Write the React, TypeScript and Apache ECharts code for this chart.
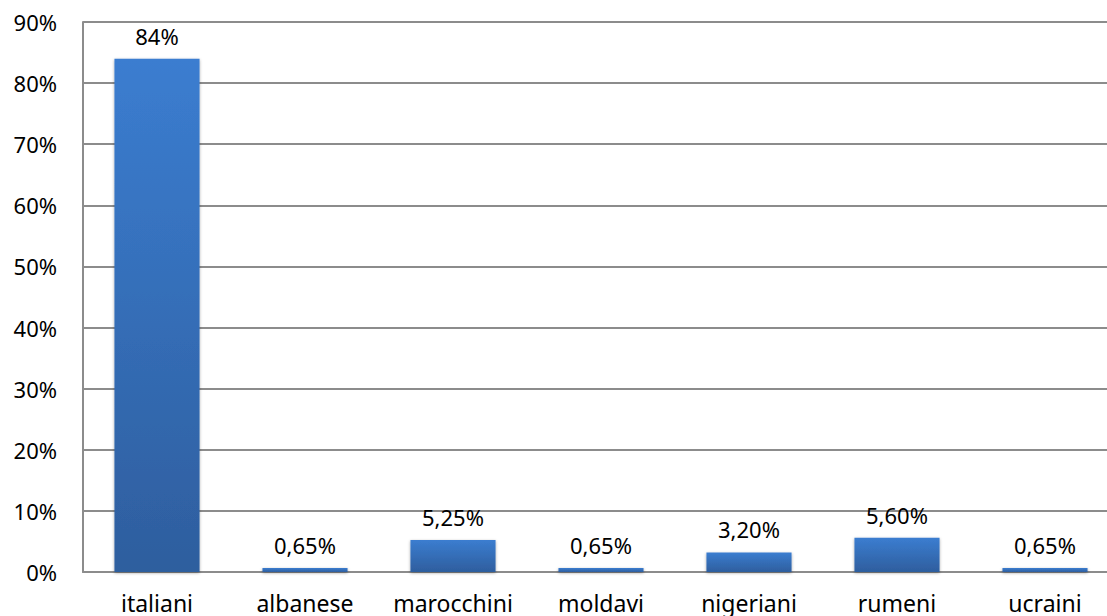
import React, { useEffect, useRef } from "react";
import * as echarts from "echarts";

// Share of people by nationality
const categories = ["italiani", "albanese", "marocchini", "moldavi", "nigeriani", "rumeni", "ucraini"];
const shares = [84, 0.65, 5.25, 0.65, 3.2, 5.6, 0.65];
const shareLabels = ["84%", "0,65%", "5,25%", "0,65%", "3,20%", "5,60%", "0,65%"];

const FONT = "'Noto Sans', 'Liberation Sans', sans-serif";

// The plot area runs a little past the right edge of the visible frame,
// so the chart canvas is wider than its clipping wrapper.
const VIEW_W = 1107;
const VIEW_H = 616;
const CANVAS_W = 1135;

export default function App() {
  const ref = useRef<HTMLDivElement>(null);

  useEffect(() => {
    if (!ref.current) return;
    const chart = echarts.init(ref.current, null, { renderer: "svg" });
    chart.setOption({
      animation: false,
      backgroundColor: "#ffffff",
      grid: { left: 83, right: CANVAS_W - 1119, top: 22, bottom: 44, containLabel: false },
      xAxis: {
        type: "category",
        data: categories,
        axisLine: { show: true, lineStyle: { color: "#8c8c8c", width: 2 } },
        axisTick: { show: false },
        axisLabel: { color: "#000", fontFamily: FONT, fontSize: 23, margin: 19, interval: 0 },
      },
      yAxis: {
        type: "value",
        min: 0,
        max: 90,
        interval: 10,
        axisLine: { show: true, lineStyle: { color: "#8c8c8c", width: 2 } },
        axisTick: { show: false },
        splitLine: { show: true, lineStyle: { color: "#8c8c8c", width: 2 } },
        axisLabel: {
          color: "#000",
          fontFamily: FONT,
          fontSize: 22,
          margin: 26,
          formatter: (v: number) => `${v}%`,
        },
      },
      series: [
        {
          type: "bar",
          data: shares,
          barWidth: "57.5%",
          itemStyle: {
            color: new echarts.graphic.LinearGradient(0, 0, 0, 1, [
              { offset: 0, color: "#3b7dd0" },
              { offset: 1, color: "#2e5e9e" },
            ]),
            shadowColor: "rgba(0,0,0,0.35)",
            shadowBlur: 3,
            shadowOffsetY: 1,
          },
          label: {
            show: true,
            position: "top",
            distance: 12,
            color: "#000",
            fontFamily: FONT,
            fontSize: 22,
            formatter: (p: any) => shareLabels[p.dataIndex],
          },
        },
      ],
    });
    return () => chart.dispose();
  }, []);

  return (
    <div
      style={{
        position: "absolute",
        left: 0,
        top: 0,
        width: VIEW_W,
        height: VIEW_H,
        overflow: "hidden",
        background: "#fff",
      }}
    >
      <div ref={ref} style={{ width: CANVAS_W, height: VIEW_H }} />
    </div>
  );
}
